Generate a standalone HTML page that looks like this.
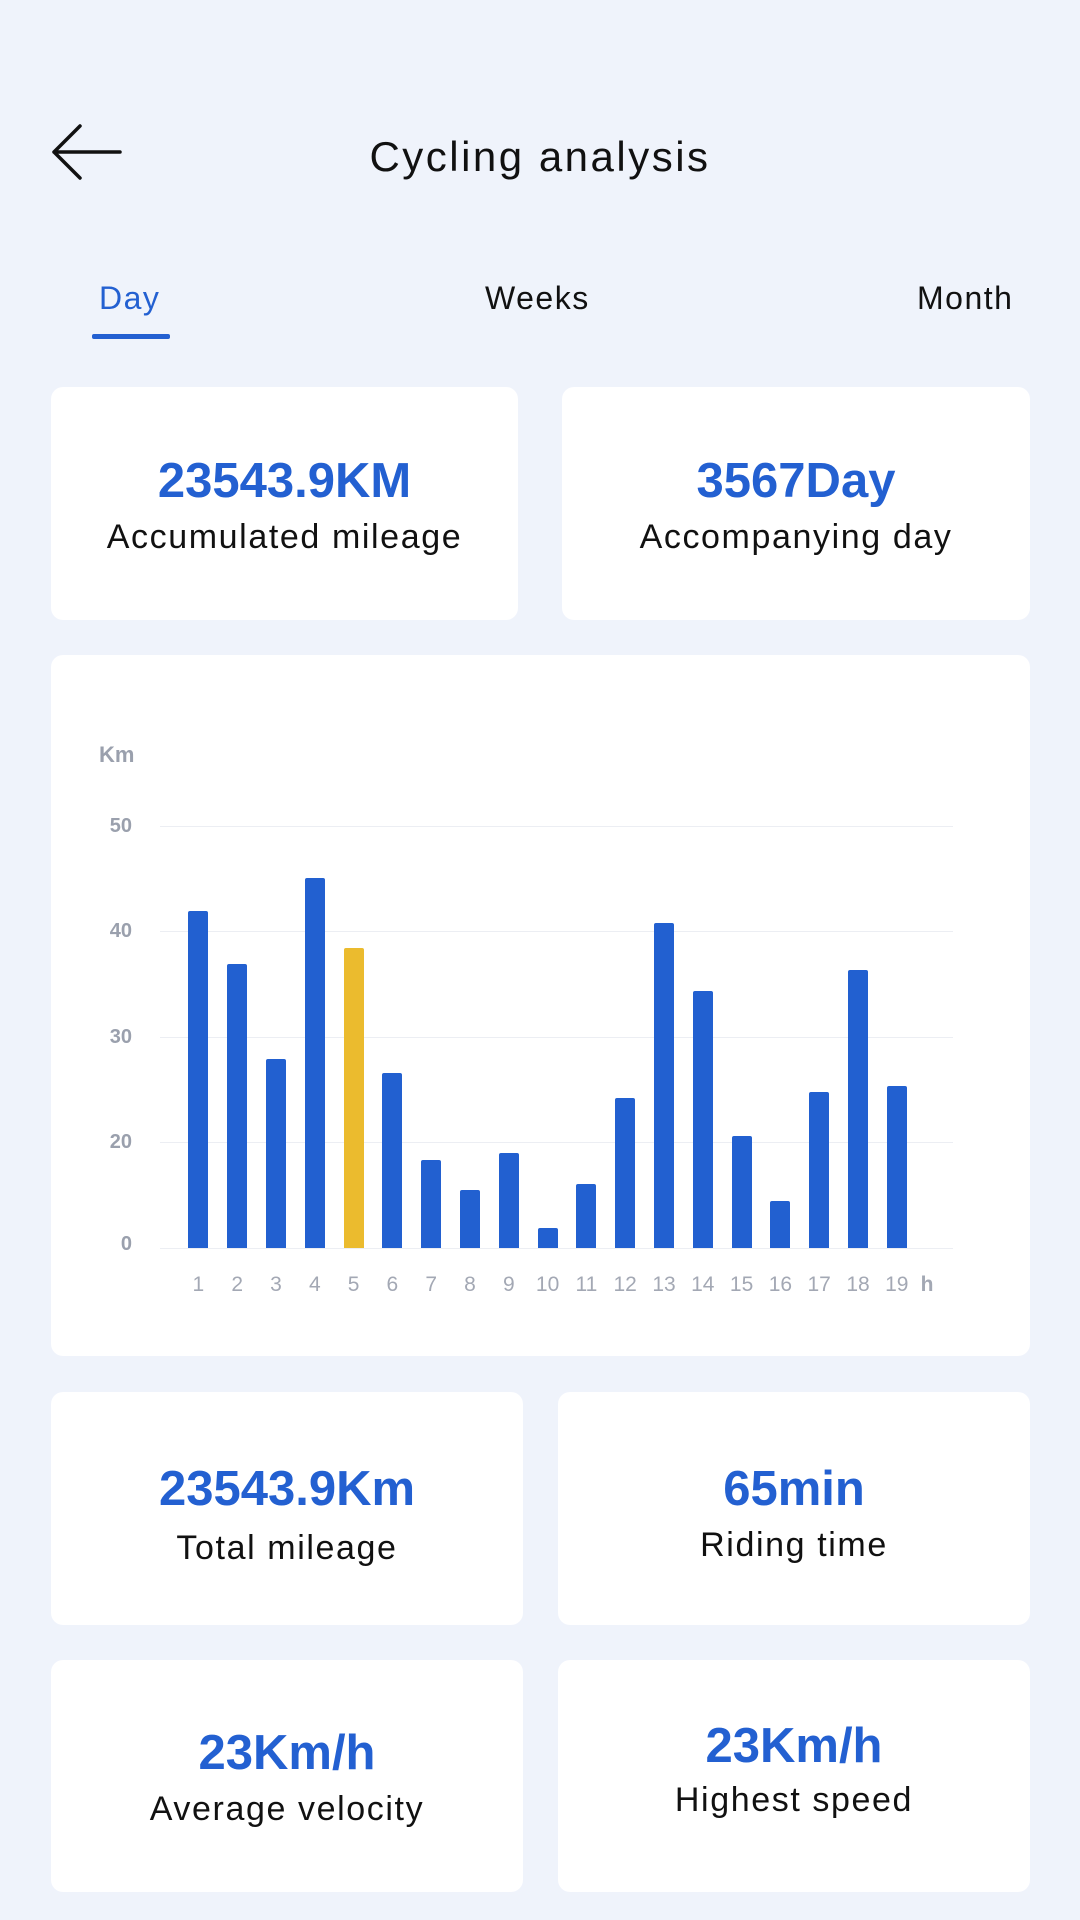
<!DOCTYPE html>
<html><head><meta charset="utf-8"><style>
*{margin:0;padding:0;box-sizing:border-box}
body{width:1080px;height:1920px;background:#eff3fb;position:relative;font-family:"Liberation Sans",sans-serif;overflow:hidden;color:#111}
.a{position:absolute}
.card{position:absolute;background:#fff;border-radius:12px}
.t{position:absolute;left:0;right:0;text-align:center;line-height:60px;height:60px}
.num{color:#2360d1;font-weight:bold;font-size:49px}
.lbl{font-size:34px;color:#111;letter-spacing:1.6px}
.tab{position:absolute;font-size:32px;line-height:40px;height:40px;letter-spacing:1.5px}
.yl{position:absolute;width:40px;text-align:right;font-size:20px;color:#9aa0ad;font-weight:bold;line-height:24px;left:92px}
.xl{position:absolute;width:38px;text-align:center;font-size:21px;color:#a3a8b4;top:1273px;line-height:24px}
.g{position:absolute;left:160px;width:793px;height:1px;background:#eceef3}
.bar{position:absolute;width:20px;background:#2260d0;border-radius:2px 2px 0 0}
</style></head><body>
<svg class="a" style="left:50px;top:120px" width="74" height="64" viewBox="0 0 74 64"><path d="M70 32H4M30 6L4 32L30 58" fill="none" stroke="#111" stroke-width="3.5" stroke-linecap="round" stroke-linejoin="round"/></svg>
<div class="a" style="left:0;right:0;top:132px;text-align:center;font-size:42px;line-height:50px;letter-spacing:2.5px">Cycling analysis</div>
<div class="tab" style="left:99px;top:278px;color:#2360d1">Day</div>
<div class="a" style="left:92px;top:334px;width:78px;height:5px;background:#2360d1;border-radius:2px"></div>
<div class="tab" style="left:485px;top:278px">Weeks</div>
<div class="tab" style="left:917px;top:278px">Month</div>

<div class="card" style="left:51px;top:387px;width:467px;height:233px">
<div class="t num" style="top:64px">23543.9KM</div><div class="t lbl" style="top:120px">Accumulated mileage</div></div>
<div class="card" style="left:562px;top:387px;width:468px;height:233px">
<div class="t num" style="top:64px">3567Day</div><div class="t lbl" style="top:120px">Accompanying day</div></div>

<div class="card" style="left:51px;top:655px;width:979px;height:701px"></div>
<div class="a" style="left:99px;top:742px;font-size:22px;color:#9aa0ad;font-weight:bold">Km</div>
<div class="g" style="top:826px"></div><div class="g" style="top:931px"></div><div class="g" style="top:1037px"></div><div class="g" style="top:1142px"></div><div class="g" style="top:1248px"></div>
<div class="yl" style="top:814px">50</div><div class="yl" style="top:919px">40</div><div class="yl" style="top:1025px">30</div><div class="yl" style="top:1130px">20</div><div class="yl" style="top:1232px">0</div>
<div id="bars"></div>
<script>
var tops=[911,964,1059,878,948,1073,1160,1190,1153,1228,1184,1098,923,991,1136,1201,1092,970,1086];
var h='';
for(var i=0;i<19;i++){var c=198.4+i*38.8;
h+='<div class="bar" style="left:'+(c-10)+'px;top:'+tops[i]+'px;height:'+(1248-tops[i])+'px;'+(i==4?'background:#ebbb2e':'')+'"></div>';
h+='<div class="xl" style="left:'+(c-19)+'px">'+(i+1)+'</div>';}
h+='<div class="xl" style="left:908px;font-weight:bold">h</div>';
document.getElementById('bars').innerHTML=h;
</script>

<div class="card" style="left:51px;top:1392px;width:472px;height:233px">
<div class="t num" style="top:67px">23543.9Km</div><div class="t lbl" style="top:126px">Total mileage</div></div>
<div class="card" style="left:558px;top:1392px;width:472px;height:233px">
<div class="t num" style="top:67px">65min</div><div class="t lbl" style="top:123px">Riding time</div></div>
<div class="card" style="left:51px;top:1660px;width:472px;height:232px">
<div class="t num" style="top:63px">23Km/h</div><div class="t lbl" style="top:119px">Average velocity</div></div>
<div class="card" style="left:558px;top:1660px;width:472px;height:232px">
<div class="t num" style="top:56px">23Km/h</div><div class="t lbl" style="top:110px">Highest speed</div></div>
</body></html>
